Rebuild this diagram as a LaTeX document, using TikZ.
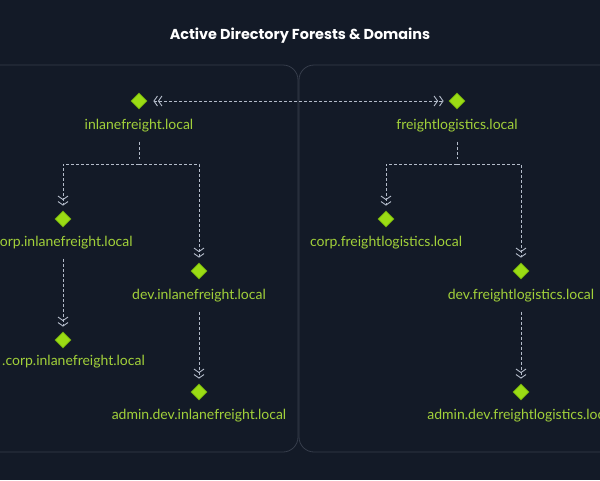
\documentclass[tikz,border=0pt]{standalone}
\usepackage{fontspec}
\setmainfont{Lato}
\newfontfamily\titlefont{Poppins}
\usetikzlibrary{arrows.meta, shapes.geometric}

\definecolor{bgnavy}{HTML}{131A27}
\definecolor{frame}{HTML}{363D4B}
\definecolor{lime}{HTML}{9BDC14}
\definecolor{limedark}{HTML}{6FA80E}
\definecolor{limetext}{HTML}{A2D13A}
\definecolor{linkgray}{HTML}{B4BCCA}

\tikzset{
  dom/.style={diamond, fill=lime, draw=limedark, line width=0.8pt,
    minimum size=16pt, inner sep=0pt},
  lbl/.style={text=limetext, font=\fontsize{14}{16}\selectfont, inner sep=3pt},
  chev/.tip={Straight Barb[length=3.5pt, width=10pt, line width=0.9pt]},
  link/.style={draw=linkgray, line width=0.8pt, dash pattern=on 3pt off 2pt,
    -{chev[sep=1pt]chev}, shorten <=6pt, shorten >=5pt},
  cluster/.style={draw=frame, line width=0.8pt, rounded corners=15pt},
}

\begin{document}
\begin{tikzpicture}[x=1pt, y=-1pt]
  \fill[bgnavy] (0,0) rectangle (600,480);
  \useasboundingbox (0,0) rectangle (600,480);
  \clip (0,0) rectangle (600,480);

  % forest frames
  \draw[cluster] (-30,65) rectangle (298,452);
  \draw[cluster] (299,65) rectangle (630,452);

  \node[text=white, font=\titlefont\bfseries\fontsize{14.4}{16}\selectfont] (title) at (300,36) {Active Directory Forests \& Domains};

  % left forest
  \node[dom] (ilf) at (139,101) {};
  \node[lbl] (ilfL) at (139,126) {inlanefreight.local};
  \node[dom] (ilfcorp) at (63,219) {};
  \node[lbl] (ilfcorpL) at (63,243) {corp.inlanefreight.local};
  \node[dom] (ilfdev) at (199,271) {};
  \node[lbl] (ilfdevL) at (199,296) {dev.inlanefreight.local};
  \node[dom] (ilfsub) at (63,340) {};
  \node[lbl, anchor=west, inner xsep=0pt] (ilfsubL) at (2,362) {.corp.inlanefreight.local};
  \node[dom] (ilfadm) at (199,392) {};
  \node[lbl] (ilfadmL) at (199,416) {admin.dev.inlanefreight.local};

  % right forest
  \node[dom] (flg) at (457,101) {};
  \node[lbl] (flgL) at (457,126) {freightlogistics.local};
  \node[dom] (flgcorp) at (386,219) {};
  \node[lbl] (flgcorpL) at (386,243) {corp.freightlogistics.local};
  \node[dom] (flgdev) at (521,271) {};
  \node[lbl] (flgdevL) at (521,296) {dev.freightlogistics.local};
  \node[dom] (flgadm) at (521,392) {};
  \node[lbl] (flgadmL) at (521,416) {admin.dev.freightlogistics.local};

  \coordinate (ilfJ) at (139,164); % split point left
  \coordinate (flgJ) at (457,164); % split point right

  % trust between forests
  \draw[link, {chev[sep=1pt]chev}-{chev[sep=1pt]chev}, shorten <=5pt] (ilf) -- (flg);

  % parent to child
  \draw[link, -] (ilfL.south) -- (ilfJ);
  \draw[link, shorten <=0pt] (ilfJ) -| (ilfcorp.north);
  \draw[link, shorten <=0pt] (ilfJ) -| (ilfdev.north);
  \draw[link] (ilfcorpL.south) -- (ilfsub.north);
  \draw[link] (ilfdevL.south) -- (ilfadm.north);

  \draw[link, -] (flgL.south) -- (flgJ);
  \draw[link, shorten <=0pt] (flgJ) -| (flgcorp.north);
  \draw[link, shorten <=0pt] (flgJ) -| (flgdev.north);
  \draw[link] (flgdevL.south) -- (flgadm.north);
\end{tikzpicture}
\end{document}
